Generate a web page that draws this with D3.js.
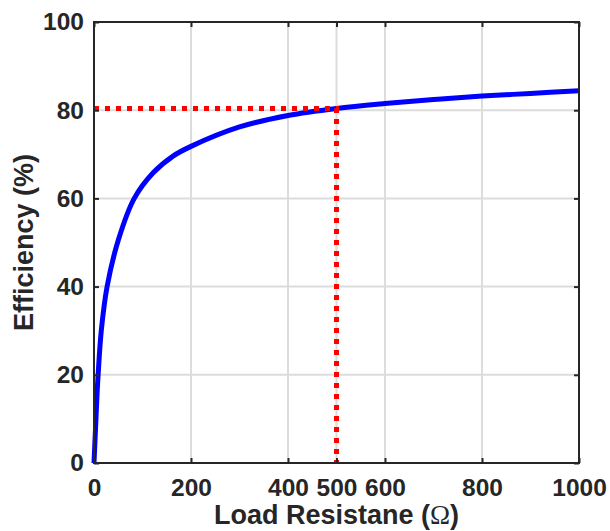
<!DOCTYPE html>
<html>
<head>
<meta charset="utf-8">
<script src="https://cdn.jsdelivr.net/npm/d3@7"></script>
<style>
  html, body { margin: 0; padding: 0; background: #ffffff; }
  svg { display: block; }
  .tick text { font-family: "Liberation Sans", Arial, sans-serif; font-weight: bold; font-size: 24.5px; fill: #262626; }
</style>
</head>
<body>
<svg id="chart" width="610" height="531"></svg>
<script>
// Load resistance (Ω) and efficiency (%) samples of the curve
const resistance = [0, 2, 4, 6, 8.5, 15, 27, 50, 83, 122, 163, 200, 300, 400, 500, 600, 700, 800, 900, 1000];
const efficiency = [0, 5, 10, 15, 20, 30, 40, 50.5, 60, 65.8, 69.6, 71.8, 76.2, 78.8, 80.4, 81.5, 82.4, 83.2, 83.8, 84.4];

// Marked operating point
const markR = 500;
const markEff = 80.4;

// Axis ticks
const xTicks = [0, 200, 400, 500, 600, 800, 1000];
const yTicks = [0, 20, 40, 60, 80, 100];
const xGrid = [200, 400, 500, 600, 800];
const yGrid = [20, 40, 60, 80];

const margin = { left: 94, top: 22, right: 31, bottom: 68 };
const W = 610, H = 531;
const x0 = margin.left, x1 = W - margin.right;
const y0 = H - margin.bottom, y1 = margin.top;

const x = d3.scaleLinear().domain([0, 1000]).range([x0, x1]);
const y = d3.scaleLinear().domain([0, 100]).range([y0, y1]);

const svg = d3.select("#chart");
const axisColor = "#262626";

// Grid
const grid = svg.append("g").attr("stroke", "#dcdcdc").attr("stroke-width", 2);
grid.selectAll("line.gx").data(xGrid).join("line").attr("class", "gx")
  .attr("x1", d => x(d)).attr("x2", d => x(d)).attr("y1", y0).attr("y2", y1);
grid.selectAll("line.gy").data(yGrid).join("line").attr("class", "gy")
  .attr("y1", d => y(d)).attr("y2", d => y(d)).attr("x1", x0).attr("x2", x1);

// Efficiency curve
const pts = resistance.map((r, i) => [r, efficiency[i]]);
svg.append("path")
  .datum(pts)
  .attr("fill", "none")
  .attr("stroke", "#0000ff")
  .attr("stroke-width", 5)
  .attr("stroke-linejoin", "round")
  .attr("d", d3.line().x(d => x(d[0])).y(d => y(d[1])).curve(d3.curveCatmullRom.alpha(0.5)));

// Dotted guide to the operating point
svg.append("path")
  .attr("fill", "none")
  .attr("stroke", "#ff0000")
  .attr("stroke-width", 5)
  .attr("stroke-dasharray", "5,6")
  .attr("d", d3.line()([[x(0), y(markEff)], [x(markR), y(markEff)], [x(markR), y(0)]]));

// Axes with inward ticks
function styleAxis(g) {
  g.select(".domain").remove();
  g.selectAll(".tick line").attr("stroke", axisColor).attr("stroke-width", 2);
}
svg.append("g").attr("transform", `translate(0,${y0})`)
  .call(d3.axisBottom(x).tickValues(xTicks).tickSizeInner(-5).tickSizeOuter(0).tickPadding(16).tickFormat(d3.format("d")))
  .call(styleAxis);
svg.append("g").attr("transform", `translate(0,${y1})`)
  .call(d3.axisTop(x).tickValues(xTicks).tickSizeInner(-5).tickSizeOuter(0).tickFormat(""))
  .call(styleAxis);
svg.append("g").attr("transform", `translate(${x0},0)`)
  .call(d3.axisLeft(y).tickValues(yTicks).tickSizeInner(-5).tickSizeOuter(0).tickPadding(10).tickFormat(d3.format("d")))
  .call(styleAxis);
svg.append("g").attr("transform", `translate(${x1},0)`)
  .call(d3.axisRight(y).tickValues(yTicks).tickSizeInner(-5).tickSizeOuter(0).tickFormat(""))
  .call(styleAxis);

// Plot box
svg.append("rect")
  .attr("x", x0).attr("y", y1).attr("width", x1 - x0).attr("height", y0 - y1)
  .attr("fill", "none").attr("stroke", axisColor).attr("stroke-width", 2);

// Axis titles
const xt = svg.append("text")
  .attr("x", (x0 + x1) / 2).attr("y", 524)
  .attr("text-anchor", "middle")
  .attr("font-family", "Liberation Sans, Arial, sans-serif")
  .attr("font-weight", "bold").attr("font-size", 27).attr("fill", axisColor);
xt.append("tspan").text("Load Resistane (");
xt.append("tspan").attr("font-family", "Liberation Serif, Times New Roman, serif").attr("font-weight", "normal").text("Ω");
xt.append("tspan").text(")");

svg.append("text")
  .attr("transform", `translate(33,${(y0 + y1) / 2}) rotate(-90)`)
  .attr("text-anchor", "middle")
  .attr("font-family", "Liberation Sans, Arial, sans-serif")
  .attr("font-weight", "bold").attr("font-size", 27).attr("fill", axisColor)
  .text("Efficiency (%)");
</script>
</body>
</html>
